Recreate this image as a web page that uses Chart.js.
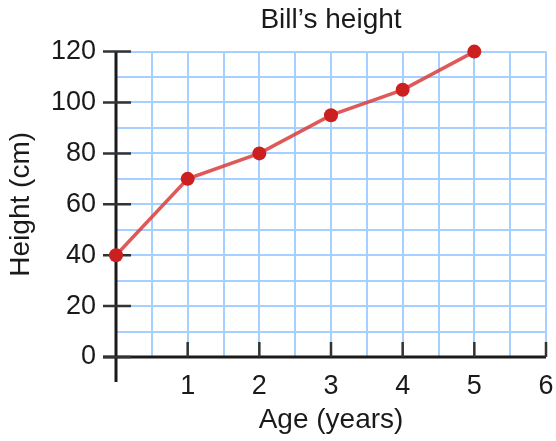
<!DOCTYPE html>
<html>
<head>
<meta charset="utf-8">
<script src="https://cdn.jsdelivr.net/npm/chart.js@4"></script>
<style>
  html, body { margin: 0; padding: 0; background: #fff; }
</style>
</head>
<body>
<canvas id="heightChart" width="556" height="441"></canvas>
<script>
// data
const ages = [0, 1, 2, 3, 4, 5];
const heights = [40, 70, 80, 95, 105, 120];
const xTickLabels = [1, 2, 3, 4, 5, 6];
const yTickLabels = [0, 20, 40, 60, 80, 100, 120];

const FONT = "'Liberation Sans', Arial, sans-serif";
const INK = '#1a1a1a';
const GRID_BLUE = '#a6d0ff';

// black axes + tick marks, drawn under the line
const axesPlugin = {
  id: 'axesPlugin',
  beforeDatasetsDraw(chart) {
    const {ctx, scales: {x, y}} = chart;
    const x0 = x.getPixelForValue(0);
    const y0 = y.getPixelForValue(0);
    ctx.save();
    ctx.strokeStyle = INK;
    ctx.lineWidth = 3;
    ctx.beginPath();
    ctx.moveTo(x0, y.getPixelForValue(120));
    ctx.lineTo(x0, y0 + 25);
    ctx.moveTo(x0 - 13, y0);
    ctx.lineTo(x.getPixelForValue(6), y0);
    ctx.stroke();
    ctx.lineWidth = 2.5;
    ctx.strokeStyle = '#333';
    ctx.beginPath();
    yTickLabels.forEach(v => {
      const py = y.getPixelForValue(v);
      ctx.moveTo(x0 - 13, py);
      ctx.lineTo(x0 + 15, py);
    });
    xTickLabels.forEach(v => {
      const px = x.getPixelForValue(v);
      ctx.moveTo(px, y0 - 15);
      ctx.lineTo(px, y0);
    });
    ctx.stroke();
    ctx.restore();
  }
};

new Chart(document.getElementById('heightChart'), {
  type: 'line',
  data: {
    datasets: [{
      data: ages.map((a, i) => ({x: a, y: heights[i]})),
      borderColor: 'rgba(218,60,60,0.85)',
      borderWidth: 3.5,
      tension: 0,
      pointRadius: 7,
      pointHoverRadius: 7,
      pointBackgroundColor: '#cc2020',
      pointBorderWidth: 0,
      clip: false,
    }]
  },
  options: {
    responsive: false,
    animation: false,
    layout: {padding: {left: 0, right: 10, top: 0, bottom: 0}},
    plugins: {
      legend: {display: false},
      tooltip: {enabled: false},
      title: {
        display: true,
        text: 'Bill’s height',
        fullSize: false,
        color: INK,
        font: {family: FONT, size: 28, weight: 'normal'},
        padding: {top: 3, bottom: 15}
      }
    },
    scales: {
      x: {
        type: 'linear',
        min: 0, max: 6,
        afterFit: s => { s.height = 84; s.paddingLeft = 0; s.paddingRight = 0; },
        border: {display: false},
        grid: {color: GRID_BLUE, lineWidth: 2, drawTicks: false},
        ticks: {
          stepSize: 0.5,
          padding: 13,
          color: INK,
          font: {family: FONT, size: 27},
          maxRotation: 0,
          autoSkip: false,
          callback: v => xTickLabels.includes(v) ? v : ''
        },
        title: {
          display: true,
          text: 'Age (years)',
          color: INK,
          font: {family: FONT, size: 28},
          padding: {top: 0, bottom: 4}
        }
      },
      y: {
        min: 0, max: 120,
        afterFit: s => { s.width = 116; s.paddingTop = 0; s.paddingBottom = 0; },
        border: {display: false},
        grid: {color: GRID_BLUE, lineWidth: 2, drawTicks: false},
        ticks: {
          stepSize: 10,
          padding: 20,
          color: INK,
          font: {family: FONT, size: 27},
          autoSkip: false,
          callback: v => yTickLabels.includes(v) ? v : ''
        },
        title: {
          display: true,
          text: 'Height (cm)',
          color: INK,
          font: {family: FONT, size: 28},
          padding: {top: 4, bottom: 0}
        }
      }
    }
  },
  plugins: [axesPlugin]
});
</script>
</body>
</html>
